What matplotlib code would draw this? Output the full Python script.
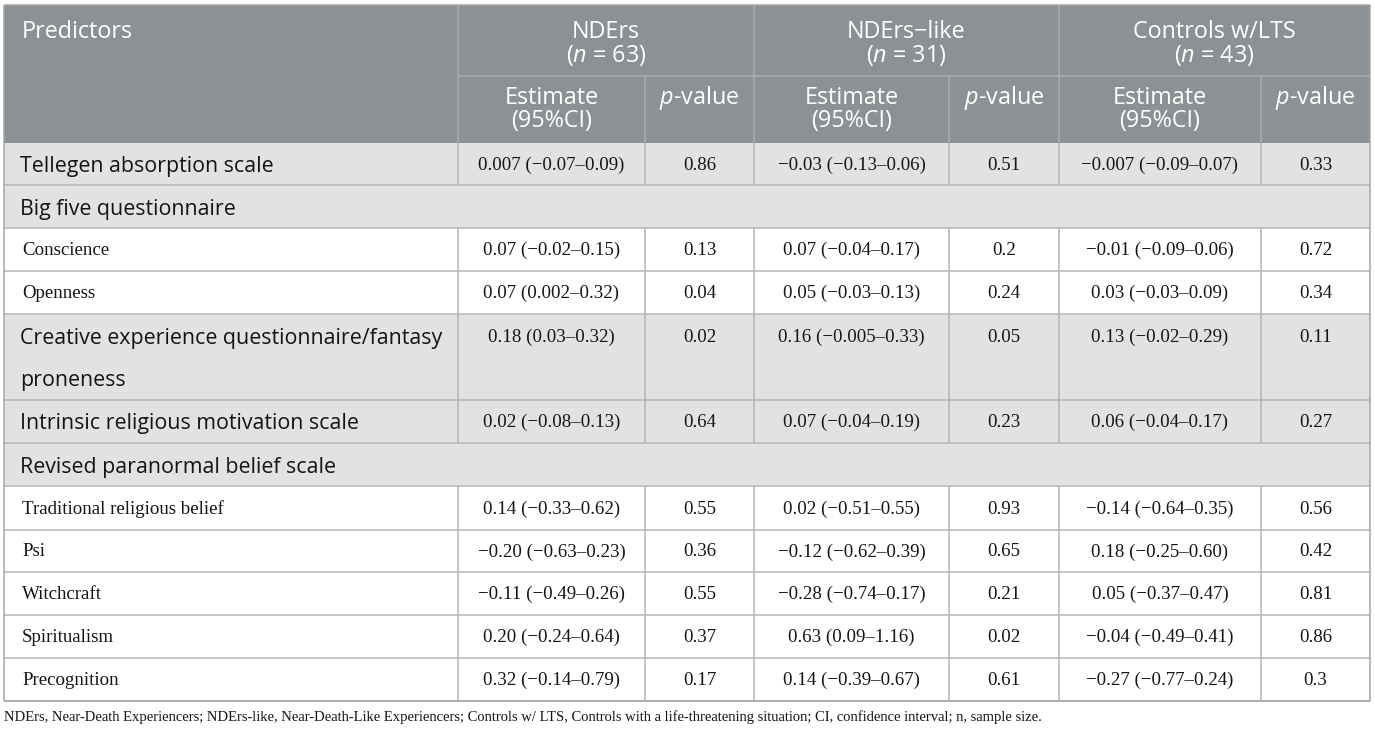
import matplotlib
matplotlib.use("Agg")
import matplotlib.pyplot as plt
from matplotlib.patches import Rectangle

plt.rcParams['mathtext.fontset'] = 'custom'
plt.rcParams['mathtext.rm'] = 'Open Sans'
plt.rcParams['mathtext.it'] = 'Open Sans:italic'

# ---------------- data ----------------
groups = ["NDErs", "NDErs\u2212like", "Controls w/LTS"]
group_n = ["63", "31", "43"]
sub_headers = ["Estimate\n(95%CI)", "$p$-value"]

predictors = [
    "Tellegen absorption scale",
    "Big five questionnaire",
    "Conscience",
    "Openness",
    "Creative experience questionnaire/fantasy\nproneness",
    "Intrinsic religious motivation scale",
    "Revised paranormal belief scale",
    "Traditional religious belief",
    "Psi",
    "Witchcraft",
    "Spiritualism",
    "Precognition",
]
row_kind = ["main", "group", "sub", "sub", "main", "main", "group",
            "sub", "sub", "sub", "sub", "sub"]

nders_est = ["0.007 (\u22120.07\u20130.09)", "", "0.07 (\u22120.02\u20130.15)", "0.07 (0.002\u20130.32)",
             "0.18 (0.03\u20130.32)", "0.02 (\u22120.08\u20130.13)", "",
             "0.14 (\u22120.33\u20130.62)", "\u22120.20 (\u22120.63\u20130.23)", "\u22120.11 (\u22120.49\u20130.26)",
             "0.20 (\u22120.24\u20130.64)", "0.32 (\u22120.14\u20130.79)"]
nders_p = ["0.86", "", "0.13", "0.04", "0.02", "0.64", "", "0.55", "0.36", "0.55", "0.37", "0.17"]

like_est = ["\u22120.03 (\u22120.13\u20130.06)", "", "0.07 (\u22120.04\u20130.17)", "0.05 (\u22120.03\u20130.13)",
            "0.16 (\u22120.005\u20130.33)", "0.07 (\u22120.04\u20130.19)", "",
            "0.02 (\u22120.51\u20130.55)", "\u22120.12 (\u22120.62\u20130.39)", "\u22120.28 (\u22120.74\u20130.17)",
            "0.63 (0.09\u20131.16)", "0.14 (\u22120.39\u20130.67)"]
like_p = ["0.51", "", "0.2", "0.24", "0.05", "0.23", "", "0.93", "0.65", "0.21", "0.02", "0.61"]

ctrl_est = ["\u22120.007 (\u22120.09\u20130.07)", "", "\u22120.01 (\u22120.09\u20130.06)", "0.03 (\u22120.03\u20130.09)",
            "0.13 (\u22120.02\u20130.29)", "0.06 (\u22120.04\u20130.17)", "",
            "\u22120.14 (\u22120.64\u20130.35)", "0.18 (\u22120.25\u20130.60)", "0.05 (\u22120.37\u20130.47)",
            "\u22120.04 (\u22120.49\u20130.41)", "\u22120.27 (\u22120.77\u20130.24)"]
ctrl_p = ["0.33", "", "0.72", "0.34", "0.11", "0.27", "", "0.56", "0.42", "0.81", "0.86", "0.3"]

footnote = ("NDErs, Near-Death Experiencers; NDErs-like, Near-Death-Like Experiencers; "
            "Controls w/ LTS, Controls with a life-threatening situation; CI, confidence interval; n, sample size.")

# ---------------- layout ----------------
W, H = 1375, 734
col_x = [4, 458, 645, 754, 949, 1059, 1261, 1370]
row_y = [5, 76, 143, 185, 228, 271, 314, 400, 443, 486, 530, 572, 615, 658, 701]

HEAD_BG = "#8c9194"
SHADE = "#e1e3e2"
LINE = "#b4b6b6"
HEAD_LINE = "#a9adaf"
SANS = "Open Sans"
SERIF = "Liberation Serif"
HEAD_FS = 16.8
MAIN_FS = 15.4
BODY_FS = 13.6
NOTE_FS = 10.5
TXT = "#141414"

fig = plt.figure(figsize=(W / 100, H / 100), dpi=100)
ax = fig.add_axes([0, 0, 1, 1])
ax.set_xlim(0, W)
ax.set_ylim(H, 0)
ax.axis("off")

def rect(x0, y0, x1, y1, fc):
    ax.add_patch(Rectangle((x0, y0), x1 - x0, y1 - y0, facecolor=fc, edgecolor="none", zorder=1))

def hline(y, x0, x1, c=LINE):
    ax.plot([x0, x1], [y, y], color=c, lw=1.1, zorder=3, solid_capstyle="butt")

def vline(x, y0, y1, c=LINE):
    ax.plot([x, x], [y0, y1], color=c, lw=1.1, zorder=3, solid_capstyle="butt")

def htext(x, y, s, ha="center"):
    ax.text(x, y, s, fontsize=HEAD_FS, family=SANS, color="white", ha=ha, va="center", zorder=4)

# header
rect(col_x[0], row_y[0], col_x[-1], row_y[2], HEAD_BG)
htext(22, 32, "Predictors", ha="left")
grp_bounds = [(col_x[1], col_x[3]), (col_x[3], col_x[5]), (col_x[5], col_x[7])]
for (a, b), g, n in zip(grp_bounds, groups, group_n):
    cx = (a + b) / 2
    htext(cx, 32, g)
    htext(cx, 56, "($n$ = " + n + ")")
for k in range(6):
    a, b = col_x[k + 1], col_x[k + 2]
    cx = (a + b) / 2
    if k % 2 == 0:
        est1, est2 = sub_headers[0].split("\n")
        htext(cx, 98, est1)
        htext(cx, 121, est2)
    else:
        htext(cx, 98, sub_headers[1])
hline(row_y[1], col_x[1], col_x[-1], HEAD_LINE)
vline(col_x[1], row_y[0], row_y[2], HEAD_LINE)
for x in (col_x[3], col_x[5]):
    vline(x, row_y[0], row_y[2], HEAD_LINE)
for x in (col_x[2], col_x[4], col_x[6]):
    vline(x, row_y[1], row_y[2], HEAD_LINE)

# body
cols = [nders_est, nders_p, like_est, like_p, ctrl_est, ctrl_p]
for i, (label, kind) in enumerate(zip(predictors, row_kind)):
    y0, y1 = row_y[i + 2], row_y[i + 3]
    fc = "white" if kind == "sub" else SHADE
    rect(col_x[0], y0, col_x[-1], y1, fc)
    multi = "\n" in label
    yc = (y0 + y1) / 2 + 1 if not multi else y0 + 23
    if kind == "sub":
        ax.text(22, yc, label, fontsize=BODY_FS, family=SERIF, color=TXT, ha="left", va="center", zorder=4)
    else:
        lines = label.split("\n")
        for j, ln in enumerate(lines):
            ax.text(20, yc + 1.5 + 42 * j, ln, fontsize=MAIN_FS, family=SANS, color=TXT, ha="left", va="center", zorder=4)
    if kind != "group":
        for k, col in enumerate(cols):
            cx = (col_x[k + 1] + col_x[k + 2]) / 2
            ax.text(cx, yc, col[i], fontsize=BODY_FS, family=SERIF, color=TXT, ha="center", va="center", zorder=4)
        for x in col_x[1:-1]:
            vline(x, y0, y1)
    hline(y1, col_x[0], col_x[-1])

# outer border
hline(row_y[0], col_x[0], col_x[-1], "#a4a8a8")
vline(col_x[0], row_y[0], row_y[-1], "#a4a8a8")
vline(col_x[-1], row_y[0], row_y[-1], "#a4a8a8")
hline(row_y[-1], col_x[0], col_x[-1], "#a4a8a8")

ax.text(4, 717, footnote, fontsize=NOTE_FS, family=SERIF, color=TXT, ha="left", va="center", zorder=4)

fig.savefig("out.png", dpi=100)
